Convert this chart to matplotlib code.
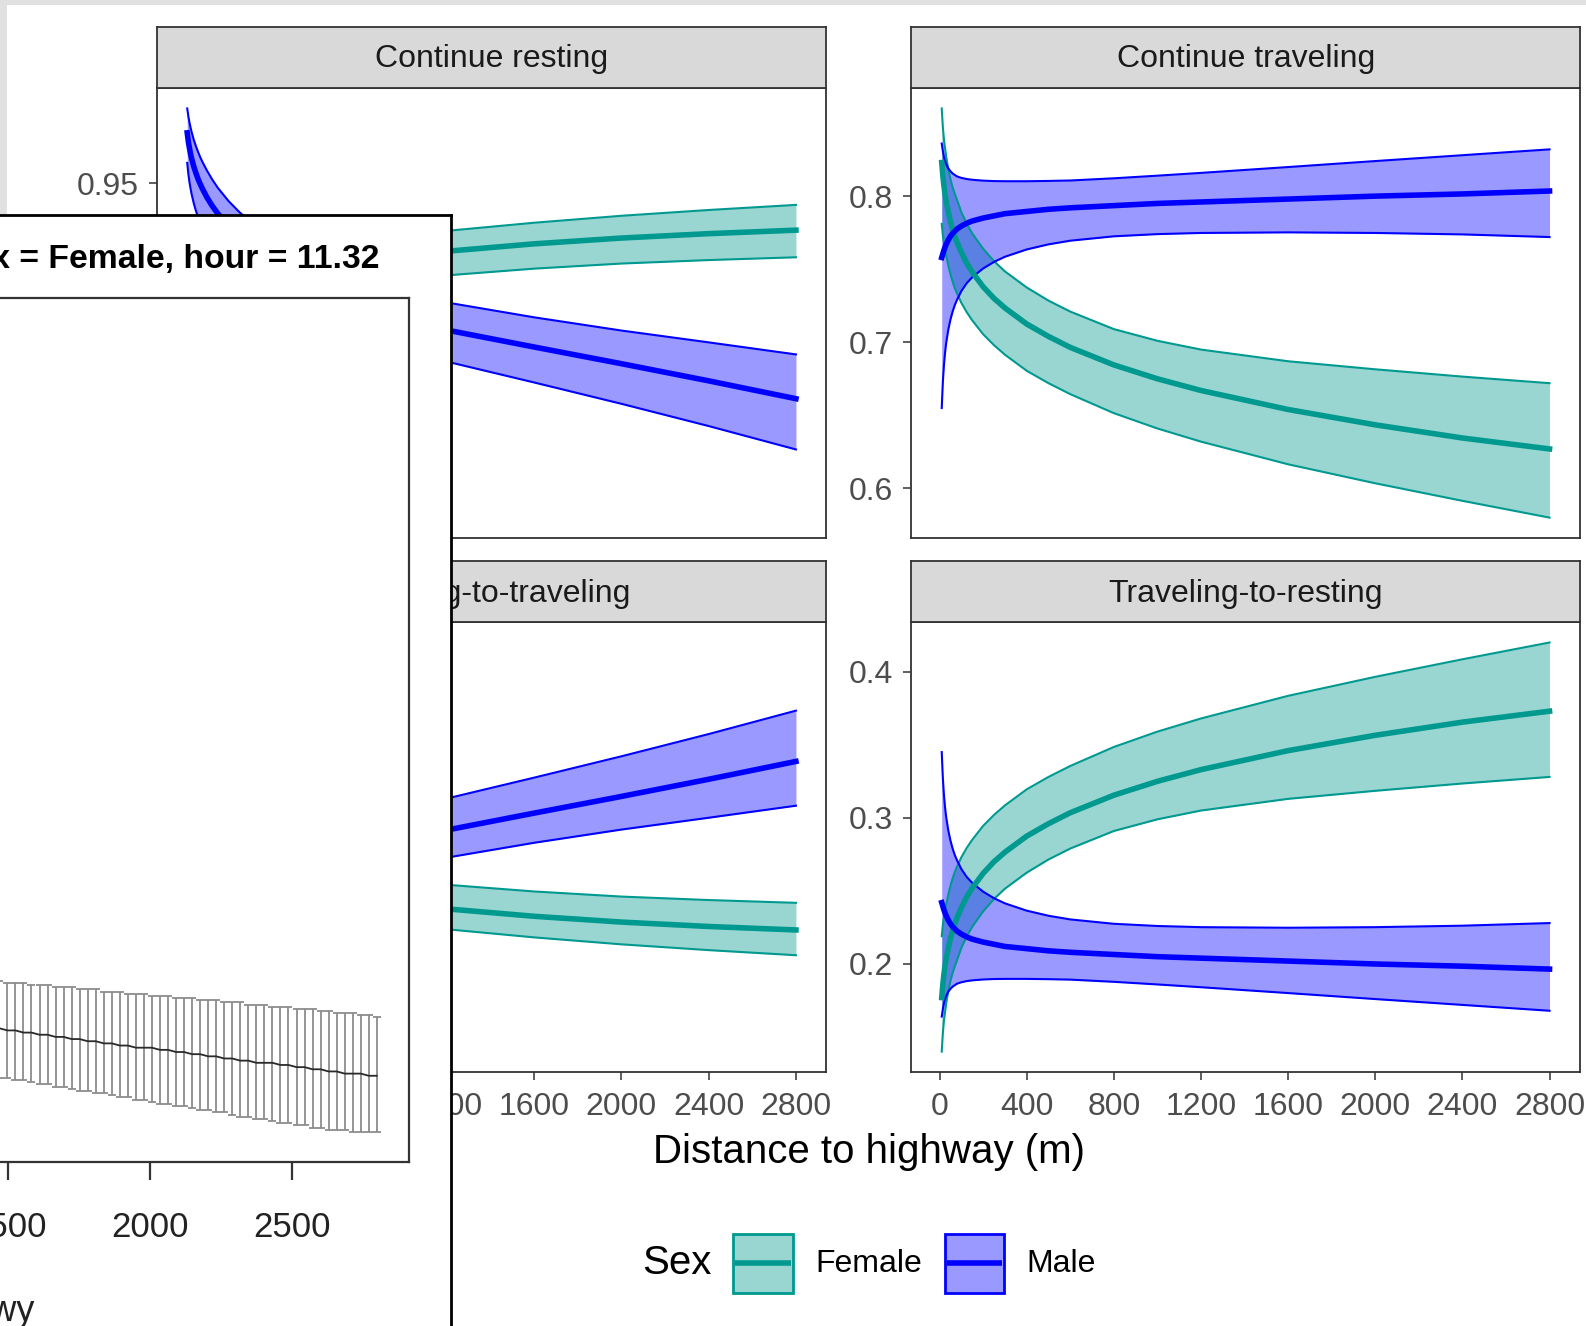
import numpy as np
import matplotlib
matplotlib.use("Agg")
import matplotlib.pyplot as plt
from matplotlib.patches import Rectangle
from matplotlib.colors import to_rgba

plt.rcParams['font.family'] = ['Liberation Sans', 'DejaVu Sans']

# ---------------------------------------------------------------
# data (distance to highway in m)
# ---------------------------------------------------------------
dist = np.array([10, 15, 20, 25, 30, 40, 50, 60, 70, 80, 100, 125, 150, 200, 250,
                 300, 400, 500, 600, 800, 1000, 1200, 1600, 2000, 2400, 2800])

# Continue resting
rest_f_lo = np.array([.8057, .8187, .8271, .8332, .8385, .8466, .8523, .8569, .8606, .8637,
                      .8688, .8734, .8772, .8829, .8870, .8902, .8952, .8988, .9014, .9054,
                      .9082, .9102, .9131, .9153, .9168, .9180])
rest_f_mean = np.array([.8467, .8547, .8601, .8642, .8675, .8726, .8763, .8794, .8819, .8840,
                        .8876, .8909, .8937, .8979, .9010, .9034, .9073, .9102, .9124, .9159,
                        .9185, .9206, .9238, .9263, .9282, .9297])
rest_f_hi = np.array([.8767, .8817, .8851, .8877, .8895, .8926, .8948, .8969, .8986, .9000,
                      .9025, .9048, .9068, .9099, .9122, .9140, .9171, .9195, .9214, .9246,
                      .9272, .9294, .9329, .9359, .9384, .9406])
rest_m_lo = np.array([.9587, .9541, .9506, .9478, .9453, .9413, .9380, .9352, .9329, .9306,
                      .9269, .9231, .9199, .9145, .9101, .9064, .9003, .8955, .8915, .8845,
                      .8785, .8730, .8640, .8548, .8452, .8351])
rest_m_mean = np.array([.9717, .9680, .9652, .9627, .9607, .9572, .9543, .9517, .9495, .9475,
                        .9439, .9401, .9369, .9314, .9268, .9229, .9163, .9108, .9062, .8986,
                        .8922, .8866, .8793, .8721, .8647, .8570])
rest_m_hi = np.array([.9822, .9789, .9763, .9741, .9721, .9687, .9659, .9634, .9611, .9591,
                      .9555, .9515, .9480, .9422, .9374, .9334, .9272, .9221, .9175, .9102,
                      .9044, .8985, .8921, .8864, .8813, .8761])

# Continue traveling
trav_f_lo = np.array([.781, .7735, .768, .7635, .7595, .7525, .7465, .7415, .737, .7335,
                      .727, .7205, .715, .7055, .698, .6915, .6805, .672, .6645, .6515,
                      .641, .632, .6165, .6035, .5915, .580])
trav_f_mean = np.array([.823, .814, .807, .8015, .797, .789, .7825, .777, .7725, .7685,
                        .7615, .754, .748, .738, .730, .7235, .7125, .704, .6965, .6845,
                        .675, .667, .654, .6435, .6345, .627])
trav_f_hi = np.array([.860, .8475, .839, .833, .8275, .8185, .8115, .806, .8015, .7975,
                      .789, .781, .7745, .764, .7555, .7485, .7375, .7285, .721, .709,
                      .701, .695, .687, .6815, .6765, .672])
trav_m_lo = np.array([.655, .6725, .684, .6925, .699, .7085, .7155, .721, .7255, .729,
                      .735, .7405, .7445, .7505, .755, .7585, .7635, .767, .7695, .7725,
                      .774, .7748, .7752, .7748, .7738, .772])
trav_m_mean = np.array([.758, .7605, .763, .765, .767, .770, .7725, .7745, .776, .7775,
                        .7795, .7815, .783, .785, .7865, .788, .7895, .791, .792, .7935,
                        .795, .796, .798, .800, .8015, .8035])
trav_m_hi = np.array([.836, .831, .827, .824, .822, .819, .817, .8155, .8145, .8135,
                      .8125, .8117, .8112, .8106, .8103, .8102, .8102, .8104, .8107, .8122,
                      .814, .8159, .8199, .824, .828, .832])

# the effect-plot window lying on top (only its right part is visible)
hwy_grid = np.linspace(0, 2800, 100)[51:]
eff_hi = [.634, .634, .633, .633, .633, .632, .632, .632, .631, .631, .631, .630, .630,
          .630, .629, .629, .629, .628, .628, .628, .627, .627, .627, .626, .626, .626,
          .625, .625, .625, .624, .624, .624, .623, .623, .623, .622, .622, .622, .621,
          .621, .621, .620, .620, .619, .619, .619, .618, .618, .617]
eff_mean = [.612, .612, .611, .611, .610, .610, .609, .609, .608, .608, .607, .607, .606,
            .606, .605, .605, .604, .604, .603, .603, .603, .602, .602, .601, .601, .600,
            .600, .599, .599, .598, .598, .597, .597, .596, .596, .596, .595, .595, .594,
            .594, .593, .593, .592, .592, .591, .591, .591, .590, .590]
eff_lo = [.590, .589, .589, .588, .588, .587, .586, .586, .585, .585, .584, .583, .583,
          .582, .582, .581, .580, .580, .579, .579, .578, .577, .577, .576, .576, .575,
          .574, .574, .573, .573, .572, .571, .571, .570, .570, .569, .568, .568, .567,
          .567, .566, .566, .565, .565, .565, .564, .564, .564, .564]

sexes = ['Female', 'Male']
TEAL = '#009990'
BLUE = '#0000FF'
W, H = 1568, 1311


def box(x0, y0, x1, y1):
    return [x0 / W, 1 - y1 / H, (x1 - x0) / W, (y1 - y0) / H]


fig = plt.figure(figsize=(15.86, 13.26), dpi=100)

# bits of the window frame behind everything
fig.patches.append(Rectangle((0, 1 - 5 / H), 1, 5 / H, transform=fig.transFigure,
                             facecolor='#E1E1E1', edgecolor='none', zorder=0))
fig.patches.append(Rectangle((0, 1 - 213 / H), 7 / W, 213 / H, transform=fig.transFigure,
                             facecolor='#E1E1E1', edgecolor='none', zorder=0))


def panel(prect, srect, title, female, male, yticks, ylabels, xaxis):
    ax = fig.add_axes(box(*prect))
    for (lo, mid, hi), col in ((female, TEAL), (male, BLUE)):
        ax.fill_between(dist, lo, hi, color=col, alpha=0.4, lw=0)
        ax.plot(dist, lo, color=col, lw=1.5, solid_joinstyle='round')
        ax.plot(dist, hi, color=col, lw=1.5, solid_joinstyle='round')
    for (lo, mid, hi), col in ((female, TEAL), (male, BLUE)):
        ax.plot(dist, mid, color=col, lw=4, solid_joinstyle='round')

    ylo = min(female[0].min(), male[0].min())
    yhi = max(female[2].max(), male[2].max())
    pad = 0.05 * (yhi - ylo)
    ax.set_ylim(ylo - pad, yhi + pad)
    ax.set_xlim(-129.5, 2939.5)
    ax.set_yticks(yticks)
    ax.set_yticklabels(ylabels)
    ax.set_xticks(np.arange(0, 2801, 400))
    ax.tick_params(axis='both', length=5.5, width=1.1, color='#333333',
                   labelcolor='#4D4D4D', labelsize=23)
    ax.tick_params(axis='y', pad=7.5)
    ax.tick_params(axis='x', pad=9, bottom=xaxis, labelbottom=xaxis)
    for s in ax.spines.values():
        s.set_color('#333333')
        s.set_linewidth(1.3)

    sx = fig.add_axes(box(*srect))
    sx.set_facecolor('#D9D9D9')
    sx.set_xticks([])
    sx.set_yticks([])
    for s in sx.spines.values():
        s.set_color('#333333')
        s.set_linewidth(1.3)
    sx.text(0.5, 0.47, title, transform=sx.transAxes, ha='center', va='center',
            fontsize=23, color='#1A1A1A')
    return ax


panel((155, 87, 817, 532), (155, 27, 817, 87), 'Continue resting',
      (rest_f_lo, rest_f_mean, rest_f_hi), (rest_m_lo, rest_m_mean, rest_m_hi),
      [0.80, 0.85, 0.90, 0.95], ['0.80', '0.85', '0.90', '0.95'], False)
panel((901, 87, 1562, 532), (901, 27, 1562, 87), 'Continue traveling',
      (trav_f_lo, trav_f_mean, trav_f_hi), (trav_m_lo, trav_m_mean, trav_m_hi),
      [0.6, 0.7, 0.8], ['0.6', '0.7', '0.8'], False)
# switching probabilities are the complements of the "continue" ones
panel((155, 615, 817, 1060), (155, 555, 817, 615), 'Resting-to-traveling',
      (1 - rest_f_hi, 1 - rest_f_mean, 1 - rest_f_lo),
      (1 - rest_m_hi, 1 - rest_m_mean, 1 - rest_m_lo),
      [0.05, 0.10, 0.15, 0.20], ['0.05', '0.10', '0.15', '0.20'], True)
panel((901, 615, 1562, 1060), (901, 555, 1562, 615), 'Traveling-to-resting',
      (1 - trav_f_hi, 1 - trav_f_mean, 1 - trav_f_lo),
      (1 - trav_m_hi, 1 - trav_m_mean, 1 - trav_m_lo),
      [0.2, 0.3, 0.4], ['0.2', '0.3', '0.4'], True)

fig.text(859 / W, 1 - 1139 / H, 'Distance to highway (m)', ha='center', va='center',
         fontsize=29, color='black')

# ggplot-like legend: title on the left, filled keys with the mean line across
lax = fig.add_axes([0, 0, 1, 1], zorder=1)
lax.set_xlim(0, W)
lax.set_ylim(H, 0)
lax.axis('off')
lax.text(635, 1249, 'Sex', ha='left', va='center', fontsize=29, color='black')
for lab, col, kx in zip(sexes, (TEAL, BLUE), (725, 934)):
    lax.add_patch(Rectangle((kx, 1220), 59, 58, facecolor=to_rgba(col, 0.4),
                            edgecolor=col, linewidth=2))
    lax.plot([kx + 2, kx + 57], [1249, 1249], color=col, lw=4, solid_capstyle='butt')
    lax.text(kx + 81, 1250, lab, ha='left', va='center', fontsize=23, color='black')

# ---------------------------------------------------------------
# overlapping effect-plot window
# ---------------------------------------------------------------
ov = fig.add_axes(box(-20, 213, 446, 1340), zorder=10)
ov.set_facecolor('white')
ov.set_xticks([])
ov.set_yticks([])
for s in ov.spines.values():
    s.set_color('black')
    s.set_linewidth(2)

inner = fig.add_axes(box(-445, 295, 404, 1149), zorder=11)
inner.set_facecolor('white')
eff_mean = np.array(eff_mean)
inner.errorbar(hwy_grid, eff_mean, yerr=[eff_mean - np.array(eff_lo), np.array(eff_hi) - eff_mean],
               fmt='none', ecolor='#8C8C8C', elinewidth=1.3, capsize=2.9, capthick=1.3)
inner.plot(hwy_grid, eff_mean, color='#2A2A2A', lw=1.3)
inner.set_xlim(-112, 2912)
inner.set_ylim(0.55, 0.95)
inner.set_xticks([0, 500, 1000, 1500, 2000, 2500])
inner.set_yticks([])
inner.tick_params(axis='x', length=13, width=1.6, color='#333333', labelsize=25,
                  labelcolor='#222222', pad=22)
for s in inner.spines.values():
    s.set_color('#333333')
    s.set_linewidth(1.6)

fig.text(375 / W, 1 - 257 / H, 'Sex = Female, hour = 11.32', ha='right', va='center',
         fontsize=24.3, fontweight='bold', color='black', zorder=12)
fig.text(35 / W, 1 - 1306 / H, 'dist2hwy', ha='right', va='baseline', fontsize=26,
         color='#222222', zorder=12)

fig.savefig('out.png', dpi=100)
